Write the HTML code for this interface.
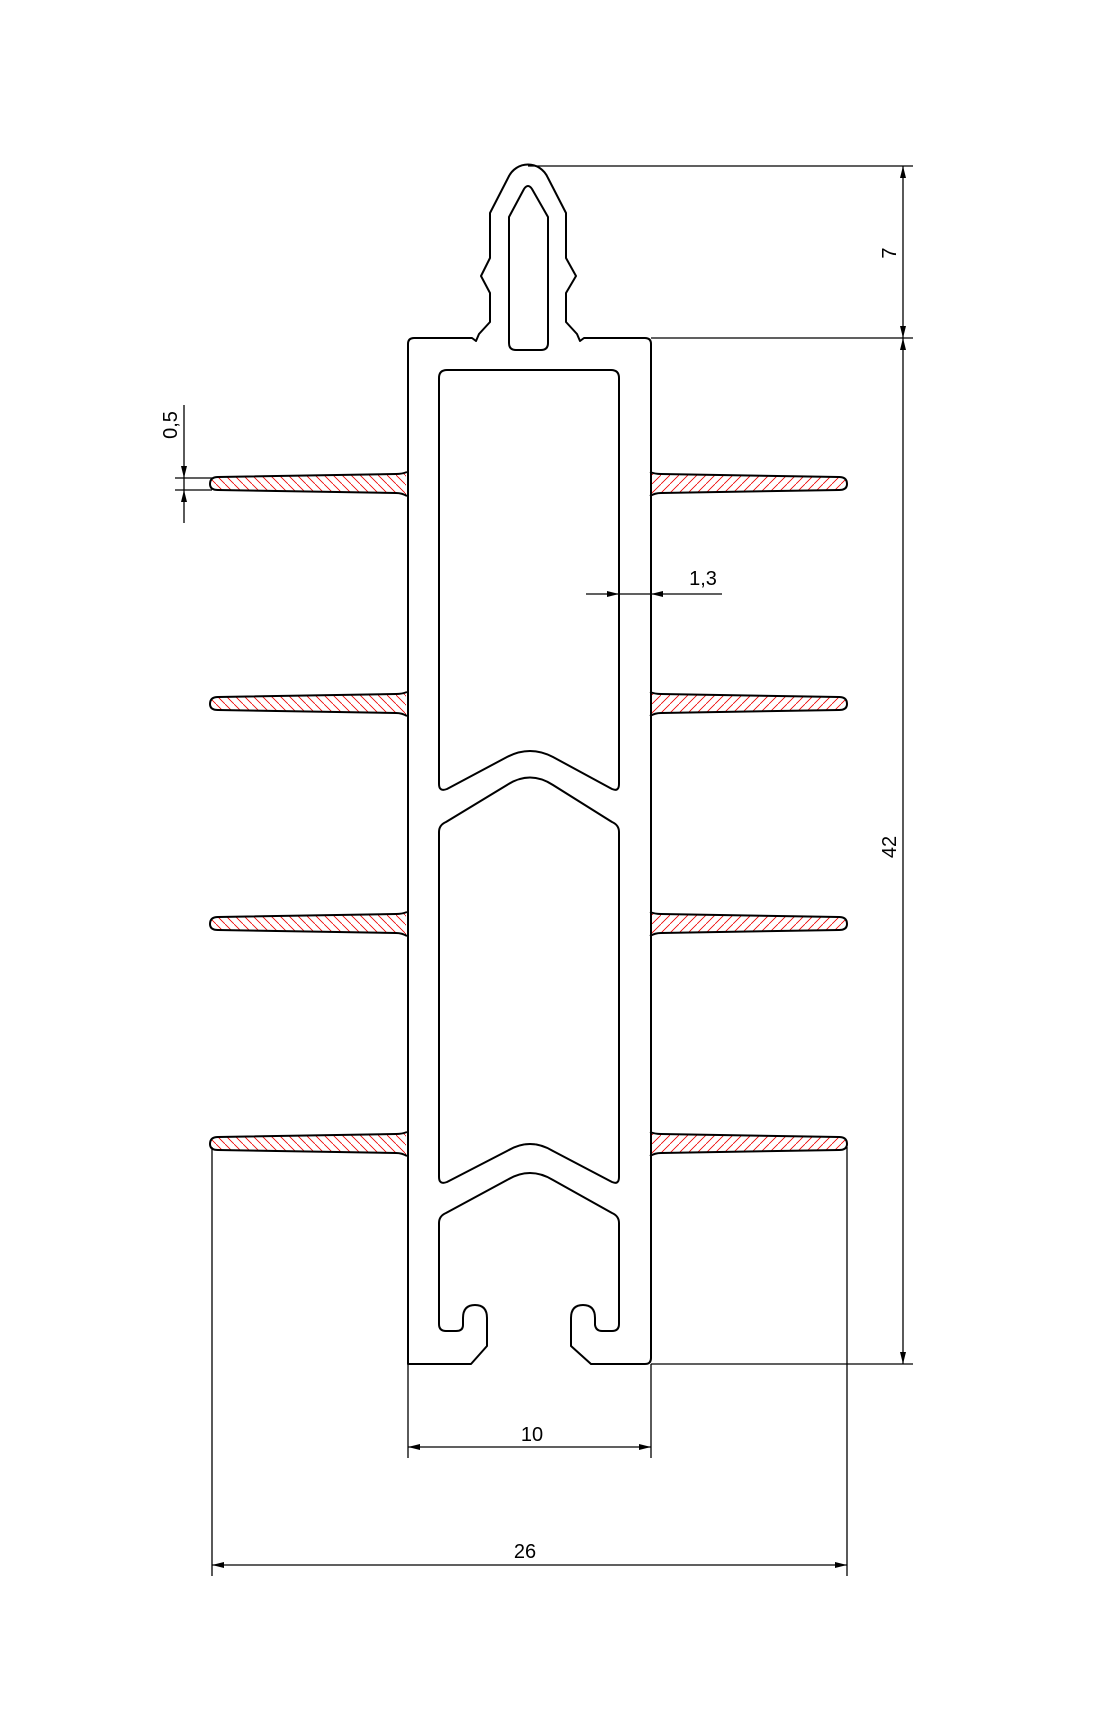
<!DOCTYPE html>
<html><head><meta charset="utf-8"><style>
html,body{margin:0;padding:0;background:#fff;}
svg{display:block;}
text{font-family:"Liberation Sans",sans-serif;font-size:20px;fill:#000;}
</style></head><body>
<svg width="1115" height="1723" viewBox="0 0 1115 1723" xmlns="http://www.w3.org/2000/svg">
<defs>
<pattern id="h" patternUnits="userSpaceOnUse" width="9" height="9">
<line x1="-1" y1="-1" x2="10" y2="10" stroke="#e00" stroke-width="0.8"/>
</pattern>
<g id="fin">
<path d="M406,-12 Q402,-10 396,-10 L218,-7 Q210,-7 210,0 Q210,6 218,6 L396,9 Q402,9 406,12 Z" fill="url(#h)" stroke="none"/>
<path d="M407,-12 Q402,-10 396,-10 L218,-7 Q210,-7 210,0 Q210,6 218,6 L396,9 Q402,9 407,12" fill="none" stroke="#000" stroke-width="2"/>
</g>
</defs>
<g>
<use href="#fin" transform="translate(0,484)"/>
<use href="#fin" transform="translate(0,704)"/>
<use href="#fin" transform="translate(0,924)"/>
<use href="#fin" transform="translate(0,1144)"/>
<use href="#fin" transform="translate(1057,484) scale(-1,1)"/>
<use href="#fin" transform="translate(1057,704) scale(-1,1)"/>
<use href="#fin" transform="translate(1057,924) scale(-1,1)"/>
<use href="#fin" transform="translate(1057,1144) scale(-1,1)"/>
</g>
<g fill="none" stroke="#000" stroke-width="2" stroke-linejoin="round">
<path d="M408,1364 L408,344 Q408,338 414,338 L472,338 L476,341 L479,334 L490,322 L490,293 L481,276 L490,258 L490,213 L508,178 C516,160 540,160 548,178 L566,213 L566,258 L576,276 L566,293 L566,322 L577,334 L580,341 L584,338 L645,338 Q651,338 651,344 L651,1358 Q651,1364 645,1364 L591,1364 L571,1346 L571,1318 Q571,1305 583,1305 Q595,1305 595,1318 L595,1325 Q596,1331 602,1331 L612,1331 Q619,1331 619,1324 L619,1223 Q619,1216 612,1213 L553,1180 Q530,1166 507,1180 L446,1213 Q439,1216 439,1223 L439,1324 Q439,1331 446,1331 L456,1331 Q463,1331 463,1325 L463,1318 Q463,1305 475,1305 Q487,1305 487,1318 L487,1346 L471,1364 Z"/>
<path d="M509,217 L509,343 Q509,350 516,350 L541,350 Q548,350 548,343 L548,217 L532,189 Q528,183 524,189 Z"/>
<path d="M447,370 L611,370 Q619,370 619,378 L619,784 Q619,792 612,789 L553,757 Q530,745 507,757 L447,789 Q439,792 439,784 L439,378 Q439,370 447,370 Z"/>
<path d="M439,832 Q439,825 446,822 L507,785 Q530,770 553,785 L612,822 Q619,825 619,832 L619,1177 Q619,1185 612,1182 L553,1151 Q530,1137 507,1151 L447,1182 Q439,1185 439,1177 Z"/>
</g>
<g stroke="#000" stroke-width="1.3" fill="none">
<line x1="528" y1="166" x2="913" y2="166"/>
<line x1="651" y1="338" x2="913" y2="338"/>
<line x1="651" y1="1364" x2="913" y2="1364"/>
<line x1="903" y1="166" x2="903" y2="1364"/>
<line x1="408" y1="1364" x2="408" y2="1458"/>
<line x1="651" y1="1364" x2="651" y2="1458"/>
<line x1="408" y1="1447" x2="651" y2="1447"/>
<line x1="212" y1="1147" x2="212" y2="1576"/>
<line x1="847" y1="1147" x2="847" y2="1576"/>
<line x1="212" y1="1565" x2="847" y2="1565"/>
<line x1="184" y1="405" x2="184" y2="523"/>
<line x1="175" y1="478" x2="212" y2="478"/>
<line x1="175" y1="490" x2="212" y2="490"/>
<line x1="586" y1="594" x2="722" y2="594"/>
</g>
<g fill="#000">
<polygon points="903,166 900,178 906,178"/>
<polygon points="903,338 900,326 906,326"/>
<polygon points="903,338 900,350 906,350"/>
<polygon points="903,1364 900,1352 906,1352"/>
<polygon points="408,1447 420,1444 420,1450"/>
<polygon points="651,1447 639,1444 639,1450"/>
<polygon points="212,1565 224,1562 224,1568"/>
<polygon points="847,1565 835,1562 835,1568"/>
<polygon points="184,478 181,466 187,466"/>
<polygon points="184,490 181,502 187,502"/>
<polygon points="619,594 607,591 607,597"/>
<polygon points="651,594 663,591 663,597"/>
</g>
<text x="532" y="1441" text-anchor="middle">10</text>
<text x="525" y="1558" text-anchor="middle">26</text>
<text x="703" y="585" text-anchor="middle">1,3</text>
<text transform="translate(896,253) rotate(-90)" text-anchor="middle">7</text>
<text transform="translate(896,847) rotate(-90)" text-anchor="middle">42</text>
<text transform="translate(177,425) rotate(-90)" text-anchor="middle">0,5</text>
</svg>
</body></html>
